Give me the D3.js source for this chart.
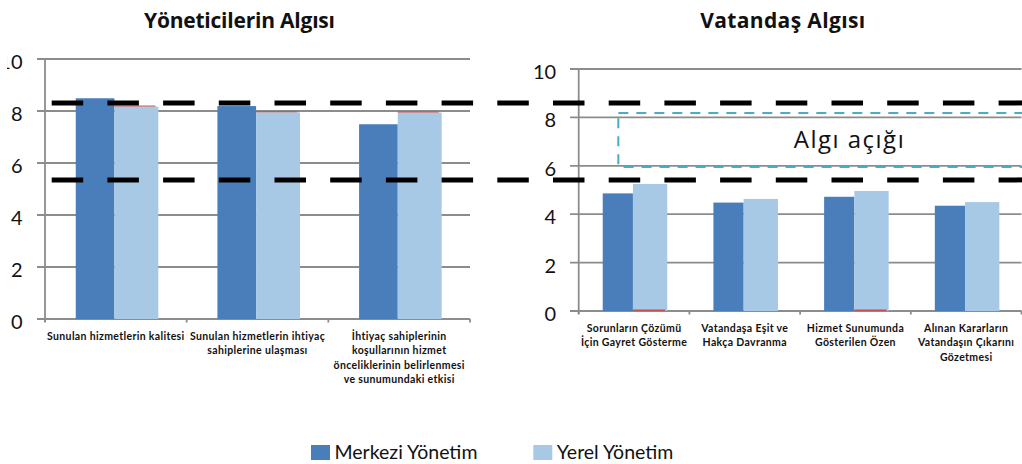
<!DOCTYPE html>
<html>
<head>
<meta charset="utf-8">
<script src="https://cdn.jsdelivr.net/npm/d3@7"></script>
<style>
  html, body { margin: 0; padding: 0; background: #fff; }
  svg { display: block; font-family: Lato, "Open Sans", sans-serif; }
</style>
</head>
<body>
<svg id="chart" width="1022" height="464"></svg>
<script>
// ---- Data ----------------------------------------------------------------
const seriesNames = ["Merkezi Yönetim", "Yerel Yönetim"];

// Yöneticilerin Algısı
const leftCategories = [
  ["Sunulan hizmetlerin kalitesi"],
  ["Sunulan hizmetlerin ihtiyaç", "sahiplerine ulaşması"],
  ["İhtiyaç sahiplerinin", "koşullarının hizmet", "önceliklerinin belirlenmesi", "ve sunumundaki etkisi"]
];
const leftMerkezi = [8.49, 8.19, 7.49];
const leftYerel   = [8.17, 7.95, 7.94];
const leftRedCap  = [0.04, 0.04, 0.04];   // thin third segment on top of Yerel bars

// Vatandaş Algısı
const rightCategories = [
  ["Sorunların Çözümü", "İçin Gayret Gösterme"],
  ["Vatandaşa Eşit ve", "Hakça Davranma"],
  ["Hizmet Sunumunda", "Gösterilen Özen"],
  ["Alınan Kararların", "Vatandaşın Çıkarını", "Gözetmesi"]
];
const rightMerkezi = [4.86, 4.48, 4.72, 4.35];
const rightYerel   = [5.25, 4.63, 4.96, 4.50];
const rightRedBase = [0.06, 0, 0.06, 0];  // thin third segment at the base of Yerel bars

const yTicks = [0, 2, 4, 6, 8, 10];
const referenceLevels = [8.31, 5.35];      // dashed levels, on the left chart's scale
const gapRange = [5.95, 8.18];             // "Algı açığı" band, on the right chart's scale
const gapLabel = "Algı açığı";
const titles = ["Yöneticilerin Algısı", "Vatandaş Algısı"];

// ---- Styles --------------------------------------------------------------
const DARK = "#4a7ebb", LIGHT = "#a8c9e6", RED = "#c0504d";
const GRID = "#8c8c8c";
const svg = d3.select("#chart");

// the left panel's tick labels are cut at the page edge
svg.append("defs").append("clipPath").attr("id", "leftEdge")
  .append("rect").attr("x", 7).attr("y", 0).attr("width", 1022).attr("height", 464);

// bar placement inside one category band (fractions of the band)
const darkFrac = [0.217, 0.49], lightFrac = [0.49, 0.80];

function panel(opts) {
  const { x0, x1, yTop, yBottom, cats, merkezi, yerel, gridLeft, title, titleX, titleW } = opts;
  const g = svg.append("g");
  const x = d3.scaleBand().domain(d3.range(cats.length)).range([x0, x1]).padding(0);
  const y = d3.scaleLinear().domain([0, 10]).range([yBottom, yTop]);
  const bw = x.bandwidth();

  // gridlines with short outside tick
  g.selectAll("line.grid").data(yTicks).join("line")
    .attr("x1", gridLeft).attr("x2", x1)
    .attr("y1", d => y(d)).attr("y2", d => y(d))
    .attr("stroke", GRID).attr("stroke-width", 1.8);

  // tick labels
  const tl = g.append("g");
  if (opts.clip) tl.attr("clip-path", "url(#leftEdge)");
  tl.selectAll("text").data(yTicks).join("text")
    .attr("x", x0 - 22.5).attr("y", d => y(d) + 10)
    .attr("text-anchor", "end").attr("font-size", 20).attr("fill", "#111")
    .text(d => d);

  // bars
  const dark = g.append("g"), light = g.append("g");
  dark.selectAll("rect").data(merkezi).join("rect")
    .attr("x", (d, i) => x(i) + bw * darkFrac[0])
    .attr("width", bw * (darkFrac[1] - darkFrac[0]))
    .attr("y", d => y(d)).attr("height", d => y(0) - y(d))
    .attr("fill", DARK);
  light.selectAll("rect").data(yerel).join("rect")
    .attr("x", (d, i) => x(i) + bw * lightFrac[0])
    .attr("width", bw * (lightFrac[1] - lightFrac[0]))
    .attr("y", d => y(d)).attr("height", d => y(0) - y(d))
    .attr("fill", LIGHT);

  if (opts.redCap) {
    g.selectAll("rect.cap").data(opts.redCap).join("rect")
      .attr("x", (d, i) => x(i) + bw * lightFrac[0])
      .attr("width", bw * (lightFrac[1] - lightFrac[0]) - 3)
      .attr("y", (d, i) => y(yerel[i] + d)).attr("height", (d, i) => y(yerel[i]) - y(yerel[i] + d))
      .attr("fill", RED);
  }
  if (opts.redBase) {
    g.selectAll("rect.base").data(opts.redBase).join("rect")
      .attr("x", (d, i) => x(i) + bw * lightFrac[0])
      .attr("width", bw * (lightFrac[1] - lightFrac[0]) - 2)
      .attr("y", d => y(d)).attr("height", d => y(0) - y(d))
      .attr("fill", RED);
  }

  // axes
  g.append("line").attr("x1", x0).attr("x2", x0).attr("y1", yTop).attr("y2", yBottom + 3)
    .attr("stroke", GRID).attr("stroke-width", 1.8);
  g.selectAll("line.xtick").data(d3.range(cats.length + 1)).join("line")
    .attr("x1", i => x0 + i * bw).attr("x2", i => x0 + i * bw)
    .attr("y1", yBottom).attr("y2", yBottom + 3.5)
    .attr("stroke", GRID).attr("stroke-width", 1.8);

  // category labels
  const lab = g.selectAll("text.cat").data(cats).join("text")
    .attr("text-anchor", "middle").attr("font-size", 10.5).attr("font-weight", "bold")
    .attr("letter-spacing", 0.35).attr("fill", "#111")
    .attr("transform", (d, i) => `translate(${x(i) + bw / 2},${yBottom + 21})`);
  lab.selectAll("tspan").data(d => d).join("tspan")
    .attr("x", 0).attr("y", (d, j) => j * 14.3).text(d => d);

  // title
  svg.append("text").attr("x", titleX).attr("y", 27.7).attr("text-anchor", "middle")
    .attr("font-family", "'Open Sans', Lato, sans-serif")
    .attr("font-size", 21).attr("font-weight", "bold").attr("fill", "#111")
    .attr("textLength", titleW).attr("lengthAdjust", "spacing").text(title);

  return { x, y, bw };
}

const L = panel({ x0: 45, x1: 470, yTop: 59, yBottom: 319, gridLeft: 37, clip: true,
  cats: leftCategories, merkezi: leftMerkezi, yerel: leftYerel, redCap: leftRedCap,
  title: titles[0], titleX: 239.5, titleW: 191 });

const R = panel({ x0: 578.7, x1: 1021.5, yTop: 69, yBottom: 311, gridLeft: 570,
  cats: rightCategories, merkezi: rightMerkezi, yerel: rightYerel, redBase: rightRedBase,
  title: titles[1], titleX: 782.7, titleW: 165 });

// "Algı açığı" dashed band in the right panel
const gx = R.x(0) + R.bw * 0.358;
svg.append("rect")
  .attr("x", gx).attr("y", R.y(gapRange[1]))
  .attr("width", 1040 - gx).attr("height", R.y(gapRange[0]) - R.y(gapRange[1]))
  .attr("fill", "none").attr("stroke", "#4bacc6").attr("stroke-width", 2)
  .attr("stroke-dasharray", "10,8");
svg.append("text").attr("x", 848.7).attr("y", (R.y(gapRange[0]) + R.y(gapRange[1])) / 2 + 8)
  .attr("text-anchor", "middle").attr("font-family", "'Open Sans', Lato, sans-serif")
  .attr("font-size", 24).attr("fill", "#111")
  .attr("textLength", 110).attr("lengthAdjust", "spacing").text(gapLabel);

// dashed reference levels across both panels
svg.selectAll("line.level").data(referenceLevels).join("line")
  .attr("x1", 51.7).attr("x2", 1022)
  .attr("y1", d => L.y(d)).attr("y2", d => L.y(d))
  .attr("stroke", "#000").attr("stroke-width", 5).attr("stroke-dasharray", "31.5,24.2");

// legend
const legendX = [311, 533.3];
const legend = svg.selectAll("g.legend").data(seriesNames).join("g")
  .attr("transform", (d, i) => `translate(${legendX[i]},445)`);
legend.append("rect").attr("width", 19).attr("height", 15).attr("fill", (d, i) => i ? LIGHT : DARK);
legend.append("text").attr("x", 23.5).attr("y", 14.3).attr("font-size", 19.5).attr("fill", "#111").text(d => d);
</script>
</body>
</html>
